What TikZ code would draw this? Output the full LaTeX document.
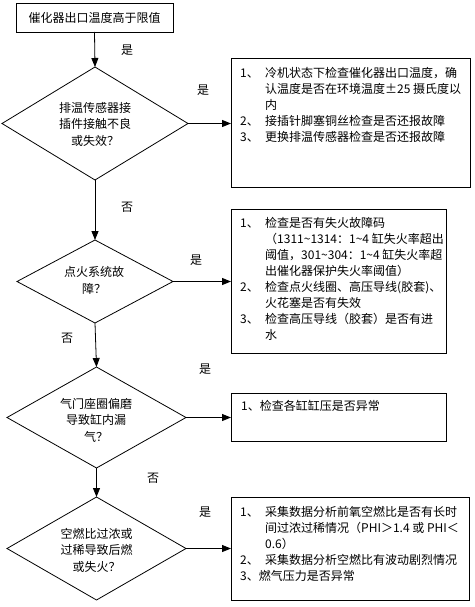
\documentclass[tikz,border=0pt]{standalone}
\usepackage{fontspec}
\setmainfont{Noto Sans CJK SC}
\usetikzlibrary{shapes.geometric,arrows.meta}
\newcommand{\numb}[1]{\makebox[25pt][l]{#1}}
\begin{document}
\begin{tikzpicture}[x=1pt,y=-1pt,
  box/.style={draw=black,line width=0.8pt,rectangle,anchor=north west,inner sep=0pt,outer sep=0pt},
  dia/.style={draw=black,line width=0.8pt,diamond,inner sep=0pt,outer sep=0pt},
  txt/.style={font=\fontsize{12}{16}\selectfont,inner sep=0pt,outer sep=0pt},
  dtxt/.style={font=\fontsize{12}{16.5}\selectfont,align=center,inner sep=0pt},
  lst/.style={font=\fontsize{12}{16}\selectfont,anchor=north west,inner sep=0pt},
  lbl/.style={font=\fontsize{12}{14}\selectfont,inner sep=0pt},
  arr/.style={line width=0.8pt,-{Triangle[length=9pt,width=7pt]}}]
\useasboundingbox (0,0) rectangle (474,607);

% start box
\node[draw=black,line width=0.8pt,minimum width=157pt,minimum height=29pt,inner sep=0pt,outer sep=0pt,txt] (top) at (94.5,17.5) {催化器出口温度高于限值};

% diamonds
\node[dia,minimum width=186pt,minimum height=113pt] (d1) at (95,123.5) {};
\node[dia,minimum width=156pt,minimum height=83pt] (d2) at (95,281.5) {};
\node[dia,minimum width=179pt,minimum height=101pt] (d3) at (96.5,417.5) {};
\node[dia,minimum width=179pt,minimum height=103pt] (d4) at (96.5,548.5) {};

\node[dtxt] (d1t) at (95,124) {排温传感器接\\插件接触不良\\或失效？};
\node[dtxt] (d2t) at (94,280.5) {点火系统故\\障？};
\node[dtxt] (d3t) at (96,420) {气门座圈偏磨\\导致缸内漏\\气？};
\node[dtxt] (d4t) at (96.5,550) {空燃比过浓或\\过稀导致后燃\\或失火？};

% boxes
\node[box,minimum width=239pt,minimum height=129pt] (b1) at (231,58) {};
\node[box,minimum width=215pt,minimum height=144pt] (b2) at (231,209) {};
\node[box,minimum width=215pt,minimum height=48pt] (b3) at (231,393) {};
\node[box,minimum width=238pt,minimum height=103pt] (b4) at (231,497) {};

\node[lst] (b1t) at (240,66.2) {\begin{tabular}{@{}l@{}l@{}}
\numb{1、} & 冷机状态下检查催化器出口温度，确\\
 & 认温度是否在环境温度±25 摄氏度以\\
 & 内\\
\numb{2、} & 接插针脚塞铜丝检查是否还报故障\\
\numb{3、} & 更换排温传感器检查是否还报故障
\end{tabular}};

\node[lst] (b2t) at (240,216.2) {\begin{tabular}{@{}l@{}l@{}}
\numb{1、} & 检查是否有失火故障码\\
 & （1311\textasciitilde1314：1\textasciitilde4 缸失火率超出\\
 & 阈值，301\textasciitilde304：1\textasciitilde4 缸失火率超\\
 & 出催化器保护失火率阈值）\\
\numb{2、} & 检查点火线圈、高压导线(胶套)、\\
 & 火花塞是否有失效\\
\numb{3、} & 检查高压导线（胶套）是否有进\\
 & 水
\end{tabular}};

\node[lst] (b3t) at (241,400.2) {1、检查各缸缸压是否异常};

\node[lst] (b4t) at (240,505.2) {\begin{tabular}{@{}l@{}l@{}}
\numb{1、} & 采集数据分析前氧空燃比是否有长时\\
 & 间过浓过稀情况（PHI＞1.4 或 PHI＜\\
 & 0.6）\\
\numb{2、} & 采集数据分析空燃比有波动剧烈情况\\
\multicolumn{2}{@{}l@{}}{3、燃气压力是否异常}
\end{tabular}};

% connectors
\draw[arr] (top.south) -- (d1.north);
\draw[arr] (d1.south) -- (d2.north);
\draw[arr] (d2.south) -- (d3.north);
\draw[arr] (d3.south) -- (d4.north);
\draw[arr] (d1.east) -- (d1.east -| b1.west);
\draw[arr] (d2.east) -- (d2.east -| b2.west);
\draw[arr] (d3.east) -- (d3.east -| b3.west);
\draw[arr] (d4.east) -- (d4.east -| b4.west);

% labels
\node[lbl] (l1) at (127,50) {是};
\node[lbl] (l2) at (203,90) {是};
\node[lbl] (l3) at (127,207) {否};
\node[lbl] (l4) at (196,260) {是};
\node[lbl] (l5) at (67,338) {否};
\node[lbl] (l6) at (205,369) {是};
\node[lbl] (l7) at (153,478) {否};
\node[lbl] (l8) at (205,512) {是};
\end{tikzpicture}
\end{document}
